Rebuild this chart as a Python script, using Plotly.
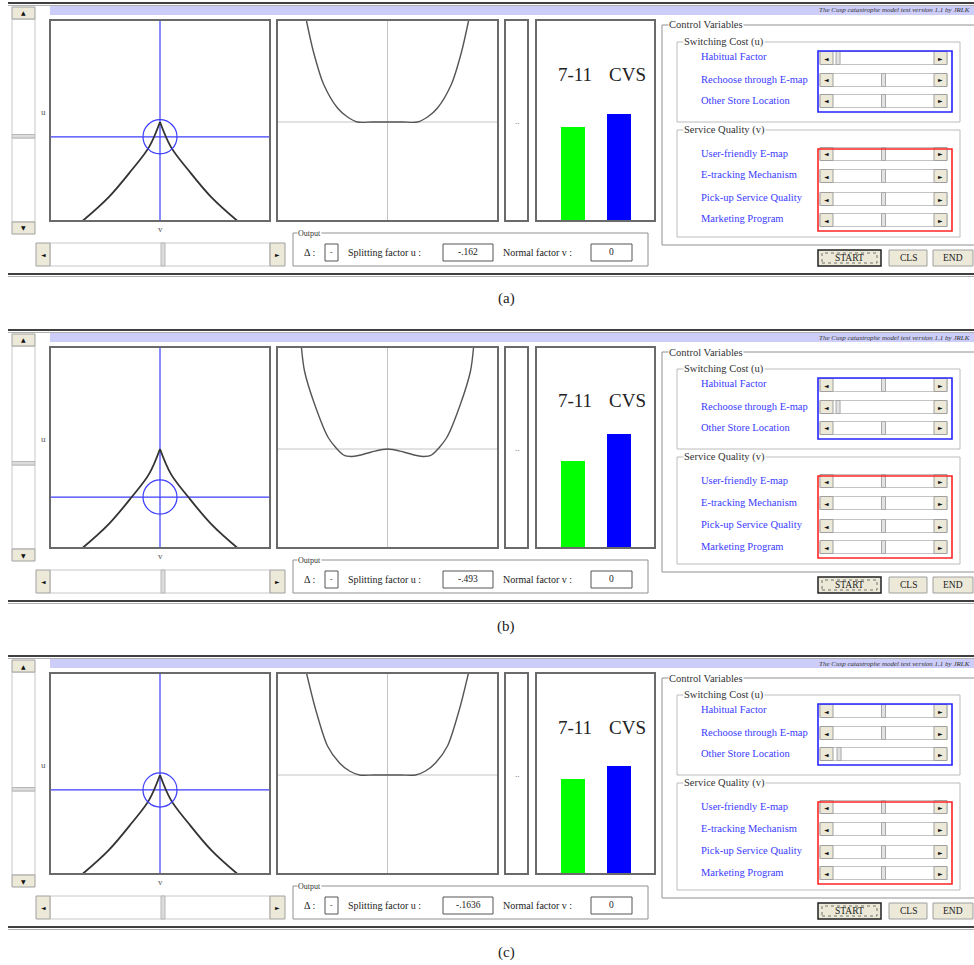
import plotly.graph_objects as go

W, H = 974, 965
SERIF = "Liberation Serif, Times New Roman, serif"
SANS = "DejaVu Sans, sans-serif"

# ---------------- data ----------------
panel_captions = ["(a)", "(b)", "(c)"]
splitting_u = [-0.162, -0.493, -0.1636]
splitting_u_text = ["-.162", "-.493", "-.1636"]
normal_v = [0.0, 0.0, 0.0]
normal_v_text = ["0", "0", "0"]
delta_text = ["-", "-", "-"]

cusp_left_v = [-0.775, -0.515, -0.285, -0.11, 0.0]
cusp_left_u = [-1.0, -0.765, -0.495, -0.265, -0.015]
cusp_right_v = [0.0, 0.11, 0.285, 0.515, 0.775]
cusp_right_u = [-0.015, -0.265, -0.495, -0.765, -1.0]

pot_a_x = [-0.81, -0.74, -0.64, -0.50, -0.40, -0.30, -0.15, 0.0, 0.15, 0.30, 0.40, 0.50, 0.64, 0.74, 0.81]
pot_a_y = [1.01, 0.70, 0.38, 0.14, 0.05, 0.0, 0.0, 0.0, 0.0, 0.0, 0.05, 0.14, 0.38, 0.70, 1.01]
pot_b_x = [-0.86, -0.83, -0.73, -0.59, -0.44, -0.36, -0.29, -0.16, 0.0, 0.16, 0.29, 0.36, 0.44, 0.59, 0.73, 0.83, 0.86]
pot_b_y = [1.01, 0.78, 0.45, 0.11, -0.06, -0.075, -0.065, -0.03, 0.0, -0.03, -0.065, -0.075, -0.06, 0.11, 0.45, 0.78, 1.01]
pot_c_x = [-0.81, -0.72, -0.60, -0.48, -0.38, -0.28, -0.14, 0.0, 0.14, 0.28, 0.38, 0.48, 0.60, 0.72, 0.81]
pot_c_y = [1.02, 0.66, 0.29, 0.12, 0.04, 0.0, 0.0, 0.0, 0.0, 0.0, 0.04, 0.12, 0.29, 0.66, 1.02]

stores = ["7-11", "CVS"]
store_colors = ["#00ff00", "#0000ff"]
share_a = [47.0, 53.0]
share_b = [43.5, 56.5]
share_c = [47.5, 53.5]

switching_cost_labels = ["Habitual Factor", "Rechoose through E-map", "Other Store Location"]
service_quality_labels = ["User-friendly E-map", "E-tracking Mechanism", "Pick-up Service Quality", "Marketing Program"]
sliders_a = [0.05, 0.5, 0.5, 0.5, 0.5, 0.5, 0.5]
sliders_b = [0.5, 0.05, 0.5, 0.5, 0.5, 0.5, 0.5]
sliders_c = [0.5, 0.5, 0.06, 0.5, 0.5, 0.5, 0.5]

title_text = "The Cusp catastrophe model test version 1.1 by JRLK"

pot_x = [pot_a_x, pot_b_x, pot_c_x]
pot_y = [pot_a_y, pot_b_y, pot_c_y]
shares = [share_a, share_b, share_c]
sliders = [sliders_a, sliders_b, sliders_c]

# ---------------- helpers ----------------
shapes = []
annotations = []


def PX(x):
    return x / W


def PY(y):
    return 1 - y / H


def rect(x0, y0, x1, y1, color="#888", width=1, fill="rgba(0,0,0,0)", dash="solid"):
    shapes.append(dict(type="rect", xref="paper", yref="paper",
                       x0=PX(x0), x1=PX(x1), y0=PY(y1), y1=PY(y0),
                       line=dict(color=color, width=width, dash=dash),
                       fillcolor=fill, layer="above"))


def hline(x0, x1, y, color, width):
    shapes.append(dict(type="line", xref="paper", yref="paper",
                       x0=PX(x0), x1=PX(x1), y0=PY(y), y1=PY(y),
                       line=dict(color=color, width=width), layer="above"))


def text(x, y, s, size=10, color="#222", xanchor="center", family=SERIF, bg=None):
    d = dict(x=PX(x), y=PY(y), xref="paper", yref="paper", text=s, showarrow=False,
             xanchor=xanchor, yanchor="middle",
             font=dict(size=size, color=color, family=family), borderpad=0)
    if bg:
        d["bgcolor"] = bg
    annotations.append(d)


BTN = "#ece9d8"

fig = go.Figure()
layout_axes = {}

for i in range(3):
    dy = [0, 327, 653][i]
    ax_c, ax_p, ax_b = 3 * i + 1, 3 * i + 2, 3 * i + 3

    def dom_x(a, b):
        return [a / W, b / W]

    def dom_y(a, b):
        return [1 - (b + dy) / H, 1 - (a + dy) / H]

    def key(n, axis):
        return f"{axis}axis" + ("" if n == 1 else str(n))

    def ref(n, axis):
        return axis + ("" if n == 1 else str(n))

    hidden = dict(visible=False, fixedrange=True, showgrid=False, zeroline=False)
    layout_axes[key(ax_c, "x")] = dict(hidden, domain=dom_x(50, 270), range=[-1.1, 1.1], anchor=ref(ax_c, "y"))
    layout_axes[key(ax_c, "y")] = dict(hidden, domain=dom_y(20, 221), range=[-1, 1], anchor=ref(ax_c, "x"))
    layout_axes[key(ax_p, "x")] = dict(hidden, domain=dom_x(277, 498), range=[-1.105, 1.105], anchor=ref(ax_p, "y"))
    layout_axes[key(ax_p, "y")] = dict(hidden, domain=dom_y(20, 221), range=[-0.99, 1.02], anchor=ref(ax_p, "x"))
    layout_axes[key(ax_b, "x")] = dict(hidden, domain=dom_x(536, 655), range=[-0.8, 1.78], anchor=ref(ax_b, "y"),
                                       type="category")
    layout_axes[key(ax_b, "y")] = dict(hidden, domain=dom_y(20, 221), range=[0, 100], anchor=ref(ax_b, "x"))

    xc, yc = ref(ax_c, "x"), ref(ax_c, "y")
    u, v = splitting_u[i], normal_v[i]
    # control-point cross lines
    fig.add_trace(go.Scatter(x=[v, v], y=[-1, 1], mode="lines", line=dict(color="#3c3cff", width=1.2),
                             xaxis=xc, yaxis=yc, hoverinfo="skip", showlegend=False))
    fig.add_trace(go.Scatter(x=[-1.1, 1.1], y=[u, u], mode="lines", line=dict(color="#3c3cff", width=1.2),
                             xaxis=xc, yaxis=yc, hoverinfo="skip", showlegend=False))
    # cusp branches
    for cv, cu in [(cusp_left_v, cusp_left_u), (cusp_right_v, cusp_right_u)]:
        fig.add_trace(go.Scatter(x=cv, y=cu, mode="lines", line=dict(color="#333", width=1.8, shape="spline"),
                                 xaxis=xc, yaxis=yc, hoverinfo="skip", showlegend=False))
    shapes.append(dict(type="circle", xref=xc, yref=yc, x0=v - 0.17, x1=v + 0.17, y0=u - 0.17, y1=u + 0.17,
                       line=dict(color="#3c3cff", width=1.2), layer="above"))

    # potential
    xp, yp = ref(ax_p, "x"), ref(ax_p, "y")
    fig.add_trace(go.Scatter(x=[0, 0], y=[-0.99, 1.02], mode="lines", line=dict(color="#c4c4c4", width=1),
                             xaxis=xp, yaxis=yp, hoverinfo="skip", showlegend=False))
    fig.add_trace(go.Scatter(x=[-1.105, 1.105], y=[0, 0], mode="lines", line=dict(color="#c4c4c4", width=1),
                             xaxis=xp, yaxis=yp, hoverinfo="skip", showlegend=False))
    fig.add_trace(go.Scatter(x=pot_x[i], y=pot_y[i], mode="lines",
                             line=dict(color="#555", width=1.4, shape="spline", smoothing=0.8),
                             xaxis=xp, yaxis=yp, hoverinfo="skip", showlegend=False))

    # bars
    fig.add_trace(go.Bar(x=stores, y=shares[i], marker=dict(color=store_colors, line=dict(width=0)),
                         width=0.52, xaxis=ref(ax_b, "x"), yaxis=ref(ax_b, "y"),
                         hoverinfo="skip", showlegend=False))

    # ---- window chrome ----
    hline(8, 974, 3 + dy, "#404040", 2)
    hline(8, 974, 5.5 + dy, "#b0b0b0", 1)
    hline(8, 974, 274 + dy, "#404040", 2)
    hline(8, 974, 276.5 + dy, "#b0b0b0", 1)
    rect(50, 6 + dy, 974, 15 + dy, "rgba(0,0,0,0)", 0, fill="#cdcdfa")
    text(971, 10.5 + dy, "<i>" + title_text + "</i>", size=7, color="#333", xanchor="right")

    # vertical scrollbar
    rect(12, 19 + dy, 35, 135 + dy, "#c8c8c8", 1, fill="white")
    rect(12, 138 + dy, 35, 222 + dy, "#c8c8c8", 1, fill="white")
    rect(12, 134.5 + dy, 35, 138 + dy, "#b8b8b8", 1, fill="#dcdcdc")
    rect(12, 7 + dy, 35, 19 + dy, "#a0a0a0", 1, fill=BTN)
    text(23.5, 13 + dy, "▲", size=6, color="#111", family=SANS)
    rect(12, 222 + dy, 35, 234 + dy, "#a0a0a0", 1, fill=BTN)
    text(23.5, 228 + dy, "▼", size=6, color="#111", family=SANS)

    # horizontal scrollbar
    rect(50, 243 + dy, 270, 266 + dy, "#c8c8c8", 1, fill="white")
    rect(161, 243 + dy, 165, 266 + dy, "#b8b8b8", 1, fill="#dcdcdc")
    rect(36, 243 + dy, 50, 266 + dy, "#a0a0a0", 1, fill=BTN)
    text(43, 254.5 + dy, "◄", size=6, color="#111", family=SANS)
    rect(270, 243 + dy, 285, 266 + dy, "#a0a0a0", 1, fill=BTN)
    text(277.5, 254.5 + dy, "►", size=6, color="#111", family=SANS)

    text(43, 112 + dy, "u", size=9, color="#555")
    text(160, 229 + dy, "v", size=9, color="#555")

    # plot frames
    for (x0, x1) in [(50, 270), (277, 498), (505, 528), (536, 655)]:
        rect(x0, 20 + dy, x1, 221 + dy, "#6a6a6a", 2)
    text(517, 121 + dy, "..", size=9, color="#555")
    text(575, 74 + dy, stores[0], size=19, color="#222")
    text(627, 74 + dy, stores[1], size=19, color="#222")

    # output group
    rect(293, 233 + dy, 648, 266 + dy, "#909090", 1)
    text(297, 233 + dy, "Output", size=8, color="#333", xanchor="left", bg="white")
    text(303, 252 + dy, "Δ :", size=10, color="#222", xanchor="left")
    rect(325, 244 + dy, 338, 261 + dy, "#555", 1)
    text(331.5, 252 + dy, delta_text[i], size=8, color="#333")
    text(347, 252 + dy, "Splitting factor u :", size=10, color="#222", xanchor="left")
    rect(443, 244 + dy, 493, 261 + dy, "#555", 1)
    text(468, 252 + dy, splitting_u_text[i], size=9.5, color="#222")
    text(502, 252 + dy, "Normal factor v :", size=10, color="#222", xanchor="left")
    rect(591, 244 + dy, 632, 261 + dy, "#555", 1)
    text(611.5, 252 + dy, normal_v_text[i], size=9.5, color="#222")

    # control variables
    rect(662, 25 + dy, 990, 245 + dy, "#909090", 1)
    text(668, 25 + dy, "Control Variables", size=10.5, color="#333", xanchor="left", bg="white")
    rect(677, 42 + dy, 960, 122 + dy, "#bcbcbc", 1)
    text(683, 42 + dy, "Switching Cost (u)", size=10.5, color="#333", xanchor="left", bg="white")
    rect(677, 130 + dy, 960, 237 + dy, "#bcbcbc", 1)
    text(683, 130 + dy, "Service Quality (v)", size=10.5, color="#333", xanchor="left", bg="white")

    labels = switching_cost_labels + service_quality_labels
    label_y = [56, 79, 100, 153, 175, 197, 219]
    slider_y = [58, 80, 101, 154, 176, 199, 220]
    for k, lab in enumerate(labels):
        text(700, label_y[k] + dy, lab, size=10.5, color="#3a3aff", xanchor="left")
        ys = slider_y[k] + dy
        rect(820, ys - 6.5, 947, ys + 6.5, "#c4c4c4", 1, fill="white")
        tx = 833 + sliders[i][k] * (934 - 833)
        rect(tx - 2, ys - 6.5, tx + 2, ys + 6.5, "#a8a8a8", 1, fill="#e2e2e2")
        rect(820, ys - 6.5, 833, ys + 6.5, "#a0a0a0", 1, fill=BTN)
        text(826.5, ys, "◄", size=6, color="#111", family=SANS)
        rect(934, ys - 6.5, 947, ys + 6.5, "#a0a0a0", 1, fill=BTN)
        text(940.5, ys, "►", size=6, color="#111", family=SANS)
    rect(818, 51 + dy, 952, 112 + dy, "#2424ff", 1.6)
    rect(818, 149 + dy, 952, 231 + dy, "#ff2424", 1.6)

    # buttons
    rect(818, 250 + dy, 881, 266 + dy, "#202020", 1.5, fill=BTN)
    rect(822, 253 + dy, 877, 263 + dy, "#555", 0.8, dash="dot")
    text(849.5, 258 + dy, "START", size=9.5, color="#222")
    rect(889, 250 + dy, 927, 266 + dy, "#a0a0a0", 1, fill=BTN)
    text(908, 258 + dy, "CLS", size=9.5, color="#222")
    rect(933, 250 + dy, 973, 266 + dy, "#a0a0a0", 1, fill=BTN)
    text(953, 258 + dy, "END", size=9.5, color="#222")

    text(506, 299 + dy, panel_captions[i], size=15, color="#222")

fig.update_layout(width=W, height=H, margin=dict(l=0, r=0, t=0, b=0),
                  paper_bgcolor="white", plot_bgcolor="white",
                  shapes=shapes, annotations=annotations, showlegend=False,
                  bargap=0, **layout_axes)
fig.write_html("out.html", config={"displayModeBar": False},
               post_script="document.body.style.margin='0';document.body.style.overflow='hidden';")
